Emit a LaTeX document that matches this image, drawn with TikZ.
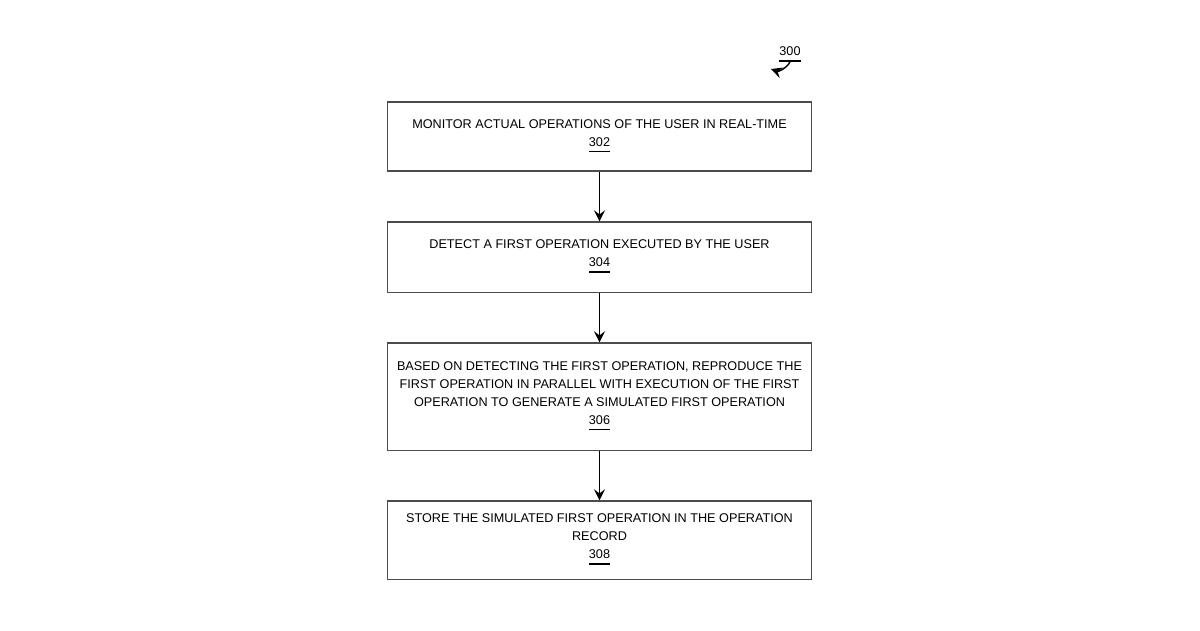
\documentclass[tikz,border=0pt]{standalone}
\usepackage{fontspec}
\setmainfont{Liberation Sans}
\usetikzlibrary{positioning}
\begin{document}
\begin{tikzpicture}[x=0.01cm, y=-0.01cm,
    every node/.style={font=\fontsize{3.6}{5.1}\selectfont},
    stepbox/.style={draw=black!70, line width=0.3pt, minimum width=4.23cm, align=center, inner sep=0pt},
    flow/.style={->, >=stealth, line width=0.4pt}]
    \useasboundingbox (0,0) rectangle (1200,630);
    % Steps of the method
    \node[stepbox, minimum height=0.69cm] (s302) at (599.5,136.5) {MONITOR ACTUAL OPERATIONS OF THE USER IN REAL-TIME\\\underline{302}};
    \node[stepbox, minimum height=0.70cm] (s304) at (599.5,257) {DETECT A FIRST OPERATION EXECUTED BY THE USER\\\underline{304}};
    \node[stepbox, minimum height=1.07cm] (s306) at (599.5,396.5) {BASED ON DETECTING THE FIRST OPERATION, REPRODUCE THE\\FIRST OPERATION IN PARALLEL WITH EXECUTION OF THE FIRST\\OPERATION TO GENERATE A SIMULATED FIRST OPERATION\\\underline{306}};
    \node[stepbox, minimum height=0.78cm] (s308) at (599.5,540) {STORE THE SIMULATED FIRST OPERATION IN THE OPERATION\\RECORD\\\underline{308}};
    % Arrows
    \draw[flow] (s302) -- (s304);
    \draw[flow] (s304) -- (s306);
    \draw[flow] (s306) -- (s308);
    % Figure label
    \node (fig) at (790,55) {\underline{300}};
    \coordinate (figtip) at (771,69);
    \draw[flow] (790,62) to[bend left=40] (figtip);
\end{tikzpicture}
\end{document}
